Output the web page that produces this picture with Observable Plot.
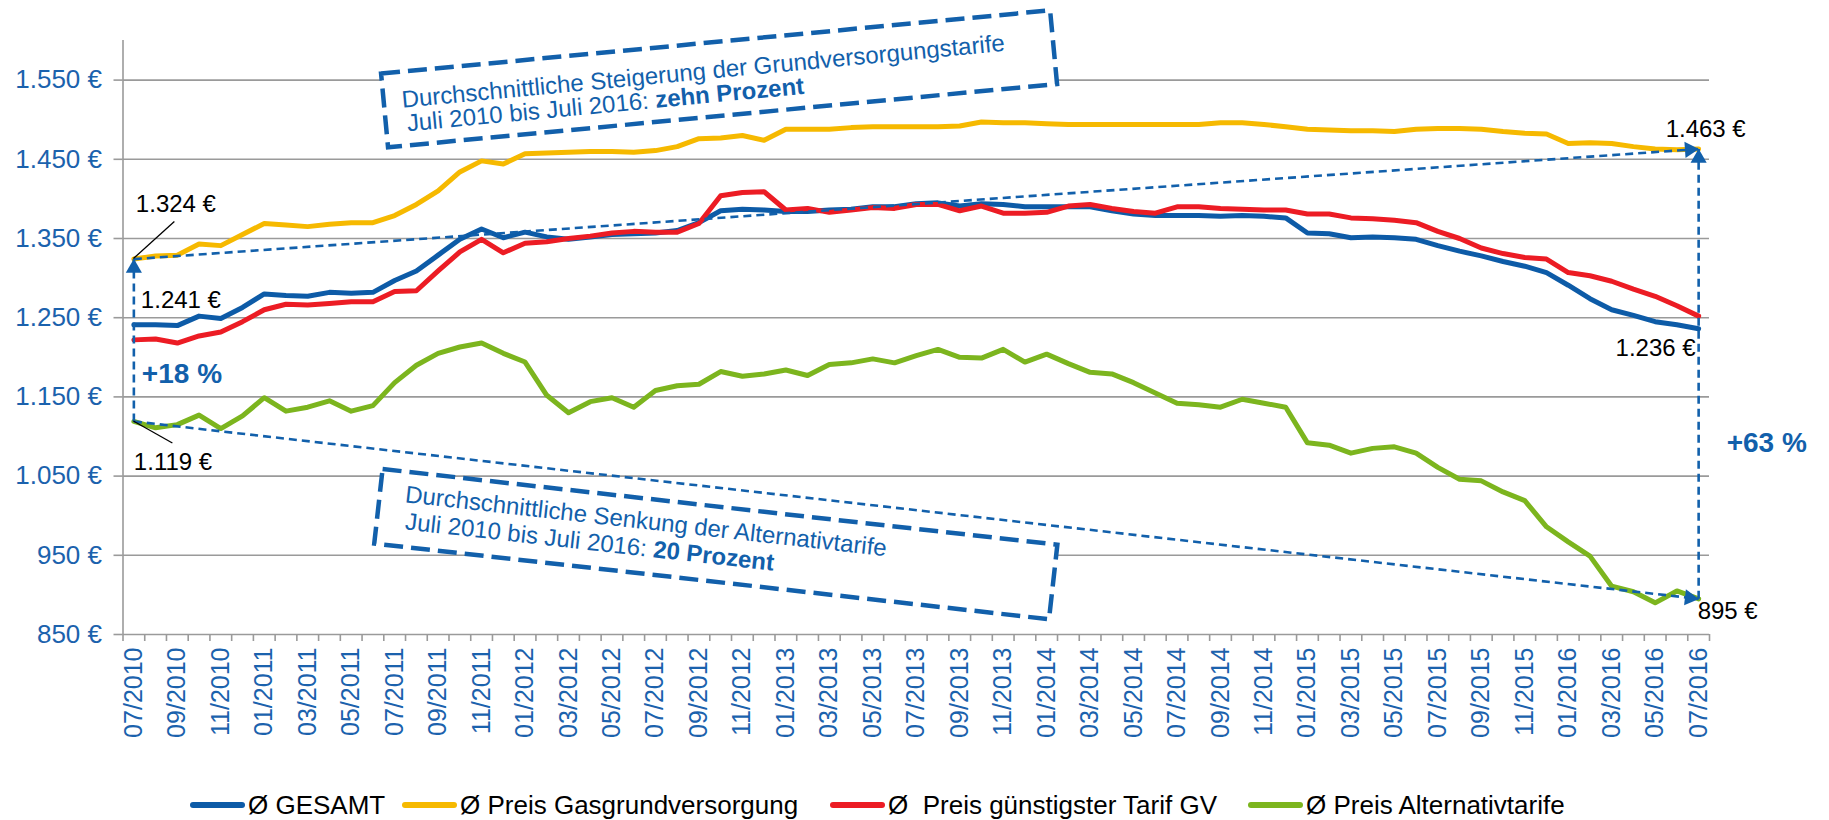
<!DOCTYPE html>
<html>
<head>
<meta charset="utf-8">
<script src="https://cdn.jsdelivr.net/npm/d3@7"></script>
<script src="https://cdn.jsdelivr.net/npm/@observablehq/plot@0.6"></script>
<style>
  html, body { margin: 0; padding: 0; background: #fff; }
  body { position: relative; width: 1829px; height: 820px; overflow: hidden; font-family: "Liberation Sans", Arial, sans-serif; }
  #legend { position: absolute; left: 0; top: 792px; width: 1829px; height: 26px; }
  .item { position: absolute; top: 0; height: 26px; display: flex; align-items: center; white-space: pre; font-size: 26px; color: #000; }
  .sw { width: 55px; height: 6px; border-radius: 3px; margin-right: 3px; }
</style>
</head>
<body>
<div id="chart"></div>
<div id="legend"></div>
<script>
// ---------- data ----------
const months = [
  "07/2010","08/2010","09/2010","10/2010","11/2010","12/2010",
  "01/2011","02/2011","03/2011","04/2011","05/2011","06/2011","07/2011","08/2011","09/2011","10/2011","11/2011","12/2011",
  "01/2012","02/2012","03/2012","04/2012","05/2012","06/2012","07/2012","08/2012","09/2012","10/2012","11/2012","12/2012",
  "01/2013","02/2013","03/2013","04/2013","05/2013","06/2013","07/2013","08/2013","09/2013","10/2013","11/2013","12/2013",
  "01/2014","02/2014","03/2014","04/2014","05/2014","06/2014","07/2014","08/2014","09/2014","10/2014","11/2014","12/2014",
  "01/2015","02/2015","03/2015","04/2015","05/2015","06/2015","07/2015","08/2015","09/2015","10/2015","11/2015","12/2015",
  "01/2016","02/2016","03/2016","04/2016","05/2016","06/2016","07/2016"
];

const gesamt = [
  1241,1241,1240,1252,1249,1263,1280,1278,1277,1282,1281,1282,1297,1309,1329,1349,1362,1351,
  1358,1352,1349,1352,1355,1356,1357,1360,1370,1385,1387,1386,
  1384,1384,1386,1387,1390,1390,1394,1395,1391,1394,1393,1390,
  1390,1390,1390,1385,1381,1379,1379,1379,1378,1379,1378,1376,
  1357,1356,1351,1352,1351,1349,1341,1334,1328,1321,1315,1307,
  1291,1274,1260,1253,1245,1241,1236
];

const grundversorgung = [
  1324,1328,1329,1343,1341,1355,1369,1367,1365,1368,1370,1370,1379,1393,1410,1434,1448,1444,
  1457,1458,1459,1460,1460,1459,1461,1466,1476,1477,1480,1474,
  1488,1488,1488,1490,1491,1491,1491,1491,1492,1497,1496,1496,
  1495,1494,1494,1494,1494,1494,1494,1494,1496,1496,1494,1491,
  1488,1487,1486,1486,1485,1488,1489,1489,1488,1485,1483,1482,
  1470,1471,1470,1466,1463,1462,1463
];

const guenstigsterGV = [
  1222,1223,1218,1227,1232,1245,1260,1267,1266,1268,1270,1270,1283,1284,1309,1333,1349,1332,
  1344,1346,1350,1353,1357,1359,1358,1358,1369,1404,1408,1409,
  1386,1388,1383,1386,1389,1388,1393,1393,1385,1391,1382,1382,
  1383,1391,1393,1388,1384,1382,1390,1390,1388,1387,1386,1386,
  1381,1381,1376,1375,1373,1370,1359,1350,1338,1331,1326,1324,
  1307,1303,1296,1286,1277,1265,1252
];

const alternativ = [
  1119,1111,1115,1127,1110,1126,1149,1132,1137,1145,1132,1139,1168,1190,1205,1213,1218,1205,
  1194,1152,1130,1144,1149,1137,1158,1164,1166,1182,1176,1179,
  1184,1177,1191,1193,1198,1193,1202,1210,1200,1199,1210,1194,
  1204,1192,1181,1179,1168,1155,1142,1140,1137,1147,1142,1137,
  1092,1089,1079,1085,1087,1079,1061,1046,1044,1030,1019,986,
  967,949,911,904,890,905,895
];

const seriesNames = ["Ø GESAMT", "Ø Preis Gasgrundversorgung", "Ø  Preis günstigster Tarif GV", "Ø Preis Alternativtarife"];
const seriesColors = ["#0d5ba7", "#f6b900", "#ec1c24", "#7cb51e"];
const seriesValues = [gesamt, grundversorgung, guenstigsterGV, alternativ];
const yTicks = [850, 950, 1050, 1150, 1250, 1350, 1450, 1550];
const boxTexts = [
  ["Durchschnittliche Steigerung der Grundversorgungstarife", "Juli 2010 bis Juli 2016: ", "zehn Prozent"],
  ["Durchschnittliche Senkung der Alternativtarife", "Juli 2010 bis Juli 2016: ", "20 Prozent"]
];

// ---------- helpers ----------
const axisBlue = "#1b62ad";
const annBlue = "#1260ab";
const gridGray = "#9a9a9a";
const fmtEuro = v => d3.format(",")(v).replace(/,/g, ".") + " €";
const last = seriesValues[0].length - 1;
const pct = (a, b) => "+" + Math.round((b / a - 1) * 100) + " %";

const lineMarks = seriesValues.map((vals, s) =>
  Plot.line(vals, {x: (d, i) => i, y: d => d, stroke: seriesColors[s], strokeWidth: 5,
                   strokeLinejoin: "round", strokeLinecap: "round"}));

const g0 = grundversorgung[0], gN = grundversorgung[last];
const a0 = alternativ[0], aN = alternativ[last];

const plot = Plot.plot({
  width: 1829,
  height: 770,
  marginLeft: 122.5,
  marginRight: 120,
  marginTop: 40,
  marginBottom: 136,
  style: {fontFamily: "'Liberation Sans', Arial, sans-serif", fontSize: "24px", background: "#fff", overflow: "visible"},
  x: {type: "linear", domain: [-0.5, last + 0.5], label: null},
  y: {domain: [850, 1600], label: null},
  marks: [
    Plot.ruleY(yTicks, {stroke: gridGray, strokeWidth: 1.6}),
    Plot.ruleX([-0.5], {stroke: gridGray, strokeWidth: 1.6}),
    Plot.axisY({ticks: yTicks, tickSize: 9, tickPadding: 12, tickFormat: fmtEuro, fontSize: 26,
                fill: axisBlue, stroke: gridGray, strokeWidth: 1.6, label: null}),
    Plot.axisX({ticks: d3.range(-0.5, last + 1, 1), tickSize: 7, tickFormat: () => "",
                stroke: gridGray, strokeWidth: 1.6, label: null}),
    Plot.axisX({ticks: d3.range(0, last + 1, 2), tickSize: 0, tickPadding: 13, tickRotate: -90,
                tickFormat: i => months[i], fontSize: 25, fill: axisBlue, label: null}),
    ...lineMarks,
    // trend / difference arrows
    Plot.link([{x1: 0, y1: g0, x2: last, y2: gN}, {x1: 0, y1: a0, x2: last, y2: aN},
               {x1: 0, y1: a0, x2: 0, y2: g0}, {x1: last, y1: aN, x2: last, y2: gN}],
      {x1: "x1", y1: "y1", x2: "x2", y2: "y2", stroke: annBlue, strokeWidth: 2.6, strokeDasharray: "8 5"}),
    Plot.dot([g0], {x: 0, y: d => d, symbol: "triangle", r: 6, fill: annBlue, stroke: "none", dy: 9}),
    Plot.dot([gN], {x: last, y: d => d, symbol: "triangle", r: 6, fill: annBlue, stroke: "none", dy: 9}),
    Plot.dot([gN], {x: last, y: d => d, symbol: "triangle", r: 6, fill: annBlue, stroke: "none", rotate: 86, dx: -9, dy: 0.6}),
    Plot.dot([aN], {x: last, y: d => d, symbol: "triangle", r: 6, fill: annBlue, stroke: "none", rotate: 96.4, dx: -9, dy: -1}),
    // value labels
    Plot.text([g0], {x: 0, y: d => d, text: fmtEuro, textAnchor: "start", dx: 2, dy: -55, fontSize: 24, fill: "#000"}),
    Plot.text([gesamt[0]], {x: 0, y: d => d, text: fmtEuro, textAnchor: "start", dx: 7, dy: -25, fontSize: 24, fill: "#000"}),
    Plot.text([a0], {x: 0, y: d => d, text: fmtEuro, textAnchor: "start", dx: 0, dy: 41, fontSize: 24, fill: "#000"}),
    Plot.text([gN], {x: last, y: d => d, text: fmtEuro, textAnchor: "start", dx: -33, dy: -20, fontSize: 24, fill: "#000"}),
    Plot.text([gesamt[last]], {x: last, y: d => d, text: fmtEuro, textAnchor: "end", dx: -3, dy: 20, fontSize: 24, fill: "#000"}),
    Plot.text([aN], {x: last, y: d => d, text: fmtEuro, textAnchor: "start", dx: -1, dy: 12, fontSize: 24, fill: "#000"}),
    Plot.text([(a0 + g0) / 2], {x: 0, y: d => d, text: () => pct(a0, g0), textAnchor: "start", dx: 8, dy: 34,
                                fontSize: 28, fontWeight: "bold", fill: annBlue}),
    Plot.text([(aN + gN) / 2], {x: last, y: d => d, text: () => pct(aN, gN), textAnchor: "start", dx: 28, dy: 69,
                                fontSize: 28, fontWeight: "bold", fill: annBlue})
  ]
});

document.getElementById("chart").appendChild(plot);

// ---------- annotation boxes & leader lines (positioned from the plot's scales) ----------
const svg = d3.select(plot);
const X = plot.scale("x").apply, Y = plot.scale("y").apply;

svg.append("line").attr("x1", X(0)).attr("y1", Y(g0)).attr("x2", X(0) + 41).attr("y2", Y(g0) - 37)
   .attr("stroke", "#000").attr("stroke-width", 1.3);
svg.append("line").attr("x1", X(0)).attr("y1", Y(a0)).attr("x2", X(0) + 39).attr("y2", Y(a0) + 22)
   .attr("stroke", "#000").attr("stroke-width", 1.3);

function box(cx, cy, angle, w, h, texts, y1, y2, tx) {
  const gg = svg.append("g").attr("transform", `translate(${cx},${cy}) rotate(${angle})`)
    .attr("text-anchor", "start");
  gg.append("rect").attr("x", -w / 2).attr("y", -h / 2).attr("width", w).attr("height", h)
    .attr("fill", "#fff").attr("stroke", annBlue).attr("stroke-width", 4.5).attr("stroke-dasharray", "19 8");
  gg.append("text").attr("x", tx).attr("y", y1).attr("font-size", 24).attr("fill", annBlue)
    .attr("text-anchor", "start").text(texts[0]);
  const t2 = gg.append("text").attr("x", tx + 3).attr("y", y2).attr("font-size", 24).attr("fill", annBlue)
    .attr("text-anchor", "start");
  t2.append("tspan").text(texts[1]);
  t2.append("tspan").attr("font-weight", "bold").text(texts[2]);
}
box(X(26.95), Y(1551), -5.4, 672, 74, boxTexts[0], -1, 23, -318);
box(X(26.8), Y(963.5), 6.4, 679, 75, boxTexts[1], -7, 20, -314);

// ---------- legend ----------
const legendLeft = [190, 402, 830, 1248];
const legend = document.getElementById("legend");
seriesNames.forEach((name, s) => {
  const item = document.createElement("div");
  item.className = "item";
  item.style.left = legendLeft[s] + "px";
  const sw = document.createElement("div");
  sw.className = "sw";
  sw.style.background = seriesColors[s];
  const tx = document.createElement("span");
  tx.textContent = name;
  item.appendChild(sw);
  item.appendChild(tx);
  legend.appendChild(item);
});
</script>
</body>
</html>
